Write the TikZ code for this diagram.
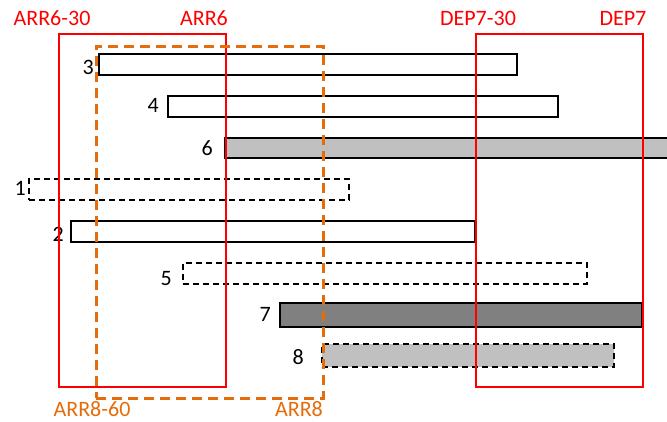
\documentclass[tikz,border=0pt]{standalone}
\usepackage{fontspec}
\setmainfont{Carlito}
\usetikzlibrary{positioning}

\definecolor{winred}{RGB}{255,0,0}
\definecolor{slotorange}{RGB}{228,108,10}
\definecolor{barlight}{RGB}{192,192,192}
\definecolor{bardark}{RGB}{128,128,128}

\begin{document}
\begin{tikzpicture}[
  x=1pt, y=-1pt,
  bar/.style={draw, line width=1.4pt, anchor=north west, inner sep=0pt, outer sep=0pt, minimum height=21pt},
  planned/.style={bar, dash pattern=on 6pt off 4pt},
  num/.style={anchor=base east, inner sep=0pt, font=\fontsize{22}{26}\selectfont},
  window/.style={draw=winred, line width=1.7pt, anchor=north west, inner sep=0pt},
  slot/.style={draw=slotorange, line width=2.6pt, dash pattern=on 10pt off 6pt, anchor=north west, inner sep=0pt},
  tag/.style={anchor=base, inner sep=0pt, font=\fontsize{22}{26}\selectfont}
]
\useasboundingbox (0,0) rectangle (667,422);
\clip (0,0) rectangle (667,422);

% flights
\node[bar, minimum width=418pt] (b3) at (99,54) {};
\node[bar, minimum width=390pt] (b4) at (168,96) {};
\node[bar, fill=barlight, minimum width=460pt, minimum height=20pt] (b6) at (225,138) {};
\node[planned, minimum width=320pt] (b1) at (29,179) {};
\node[bar, minimum width=404pt] (b2) at (71,221) {};
\node[planned, minimum width=404pt] (b5) at (183,263) {};
\node[bar, fill=bardark, minimum width=362pt, minimum height=24pt] (b7) at (280,303) {};
\node[planned, fill=barlight, minimum width=292pt, minimum height=23pt] (b8) at (322,344) {};

\node[num] (n3) at (94,75) {3};
\node[num] (n4) at (159,113) {4};
\node[num] (n6) at (213,156) {6};
\node[num] (n1) at (26,196) {1};
\node[num] (n2) at (64,242) {2};
\node[num] (n5) at (172,286) {5};
\node[num] (n7) at (271,321) {7};
\node[num] (n8) at (304,364) {8};

% time windows
\node[window, minimum width=167pt, minimum height=353pt] (arr) at (58,33) {};
\node[window, minimum width=167pt, minimum height=353pt] (dep) at (475,33) {};
\node[slot, minimum width=227pt, minimum height=352pt] (arrslot) at (95,45) {};

\node[tag, text=winred] (arrfrom) at (52,26) {ARR6-30};
\node[tag, text=winred] (arrto) at (204,26) {ARR6};
\node[tag, text=winred] (depfrom) at (478,26) {DEP7-30};
\node[tag, text=winred] (depto) at (623,26) {DEP7};
\node[tag, text=slotorange] (slotfrom) at (92,416) {ARR8-60};
\node[tag, text=slotorange] (slotto) at (299,416) {ARR8};
\end{tikzpicture}
\end{document}
